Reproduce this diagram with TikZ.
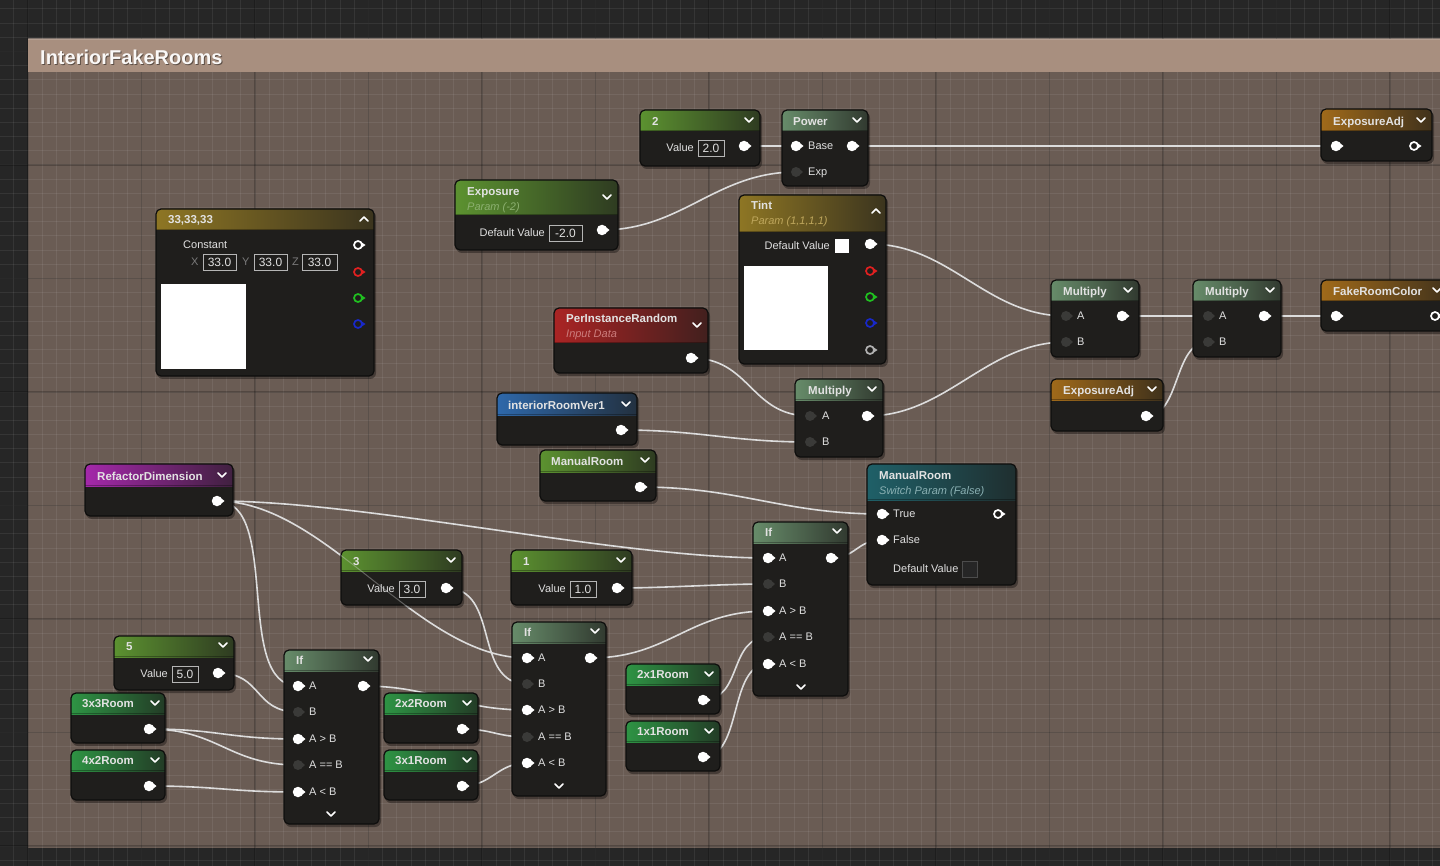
\documentclass[tikz,border=0pt]{standalone}
\usepackage{fontspec}
\setmainfont{Liberation Sans}
\pgfdeclarelayer{bg}
\pgfdeclarelayer{wires}
\pgfsetlayers{bg,wires,main}
\definecolor{outerbg}{HTML}{262626}
\definecolor{commentbg}{HTML}{6A5C54}
\definecolor{commenthead}{HTML}{A88F7F}
\definecolor{nodebg}{HTML}{1F1E1C}
\definecolor{nodeborder}{HTML}{0E0E0D}
\definecolor{pindark}{HTML}{3A3A38}
\definecolor{titlecol}{HTML}{E2E2E2}
\definecolor{labcol}{HTML}{E0E0E0}
\definecolor{boxcol}{HTML}{B5B5B5}
\definecolor{wirecol}{HTML}{DCDCDC}
\definecolor{hConst}{HTML}{5C9230}
\definecolor{hMath}{HTML}{678C6A}
\definecolor{hRoom}{HTML}{2E9444}
\definecolor{hGold}{HTML}{8E7624}
\definecolor{hOrange}{HTML}{A06A1A}
\definecolor{hRed}{HTML}{AA2424}
\definecolor{hBlue}{HTML}{2E68AA}
\definecolor{hPurple}{HTML}{A428AA}
\definecolor{hTeal}{HTML}{1F6068}
\definecolor{subGreen}{HTML}{8CB070}
\definecolor{subGold}{HTML}{BEA65C}
\definecolor{subRed}{HTML}{CC7C7C}
\definecolor{subTeal}{HTML}{8AB0B3}
\definecolor{ringRed}{HTML}{E02020}
\definecolor{ringGreen}{HTML}{20C020}
\definecolor{ringBlue}{HTML}{1828C8}
\definecolor{ringGray}{HTML}{B0B0B0}
\definecolor{xyzcol}{HTML}{7A7A7A}
\tikzset{
  uebody/.style={fill=nodebg, rounded corners=5pt, inner sep=0pt, outer sep=0pt},
  ueborder/.style={draw=nodeborder, line width=1.2pt, rounded corners=5pt},
  ueshadow/.style={fill=black, opacity=0.35, rounded corners=6pt},
  uetitle/.style={anchor=west, inner sep=0pt, text height=8.2pt, text depth=0pt, font=\fontsize{11.5}{13}\selectfont\bfseries, text=titlecol},
  uesub/.style={anchor=west, inner sep=0pt, text height=7.9pt, text depth=0pt, font=\fontsize{11}{13}\selectfont\itshape},
  uelab/.style={anchor=west, inner sep=0pt, text height=7.9pt, text depth=0pt, font=\fontsize{11}{13}\selectfont, text=labcol},
  uelabr/.style={uelab, anchor=east},
  valbox/.style={draw=boxcol, line width=0.9pt, inner sep=0pt, minimum height=16pt, text height=8.6pt, text depth=0pt, font=\fontsize{12}{14}\selectfont, text=labcol},
  pinw/.style={circle, fill=white, inner sep=0pt, minimum size=10.5pt},
  pind/.style={circle, fill=pindark, inner sep=0pt, minimum size=10pt},
  pinr/.style={circle, fill=nodebg, line width=1.7pt, inner sep=0pt, minimum size=8pt},
  caret/.style={draw=white, line width=1.5pt, line cap=round, line join=round},
  wire/.style={draw=wirecol, line width=1.6pt},
  wirefaint/.style={draw=wirecol, line width=1pt, opacity=0.35},
  gridminor/.style={draw=white, opacity=0.07, line width=1pt},
  gridmajor/.style={draw=black, opacity=0.22, line width=1.2pt},
  ctitle/.style={anchor=west, inner sep=0pt, text height=14.3pt, text depth=0pt, font=\fontsize{20}{22}\selectfont\bfseries}
}
\newcommand\uebox[7]{%
  \fill[ueshadow] (#2+1,#3+2) rectangle (#4+2,#5+3);
  \pgfmathsetmacro\uew{#4-#2}\pgfmathsetmacro\ueh{#5-#3}%
  \node[uebody, minimum width=\uew pt, minimum height=\ueh pt] (#1) at ({(#2+#4)/2},{(#3+#5)/2}) {};
  \begin{scope}
    \clip[rounded corners=5pt] (#2,#3) rectangle (#4,#5);
    \shade[left color=#7, middle color=#7!75!nodebg, right color=#7!25!nodebg] (#2,#3) rectangle (#4,#6);
    \fill[black, opacity=0.3] (#2,#6-1) rectangle (#4,#6);
  \end{scope}
  \draw[ueborder] (#2,#3) rectangle (#4,#5);
}
\newcommand\pinW[3]{\fill[white] (#2+3.5,#3-3.2) -- (#2+7.5,#3) -- (#2+3.5,#3+3.2) -- cycle; \node[pinw] (#1) at (#2,#3) {};}
\newcommand\pinD[3]{\fill[pindark] (#2+3.5,#3-3) -- (#2+7,#3) -- (#2+3.5,#3+3) -- cycle; \node[pind] (#1) at (#2,#3) {};}
\newcommand\pinR[4]{\fill[#4] (#2+3,#3-3) -- (#2+7.5,#3) -- (#2+3,#3+3) -- cycle; \node[pinr, draw=#4] (#1) at (#2,#3) {};}
\newcommand\caretdown[2]{\draw[caret] (#1-4,#2-2) -- (#1,#2+2) -- (#1+4,#2-2);}
\newcommand\caretup[2]{\draw[caret] (#1-4,#2+2) -- (#1,#2-2) -- (#1+4,#2+2);}
\newcommand\valbox[5]{\pgfmathsetmacro\vbw{#3-#2}\node[valbox, minimum width=\vbw pt] (#1) at ({(#2+#3)/2},#4) {#5};}
\newcommand\uewire[3]{\draw[wire] (#1.center) .. controls +(#3,0) and +(-#3,0) .. (#2.center);}
\begin{document}
\begin{tikzpicture}[x=1pt,y=-1pt]
\useasboundingbox (0,0) rectangle (1440,866);
\begin{pgfonlayer}{bg}
  \clip (0,0) rectangle (1440,866);
  \fill[outerbg] (0,0) rectangle (1440,866);
  \fill[commentbg] (28,38) rectangle (1450,848);
  \foreach \k in {-2,...,100} \draw[gridminor] ({28+\k*14.1875},0) -- ++(0,866);
  \foreach \k in {-4,...,58} \draw[gridminor] (0,{51.5+\k*14.1875}) -- ++(1440,0);
  \foreach \k in {0,...,12} \draw[gridmajor] ({28+\k*113.5},0) -- ++(0,866);
  \foreach \k in {-1,...,7} \draw[gridmajor] (0,{51.5+\k*113.5}) -- ++(1440,0);
  \fill[commenthead] (28,39) rectangle (1450,72);
  \fill[white, opacity=0.15] (28,38) rectangle (1450,40);
  \node[ctitle, text=black, opacity=0.45] at (41,58.5) {InteriorFakeRooms};
  \node[ctitle, text=white!94!commenthead] (commentTitle) at (40,57) {InteriorFakeRooms};
\end{pgfonlayer}

% ---------- 33,33,33 constant
\uebox{nConst}{156}{209}{374}{376}{230}{hGold}
\node[uetitle] at (168,219) {33,33,33};
\caretup{364}{219}
\node[uelab] at (183,245) {Constant};
\node[uelab, text=xyzcol] at (191,262) {X};
\valbox{cx}{203}{236}{262}{33.0}
\node[uelab, text=xyzcol] at (242,262) {Y};
\valbox{cy}{254}{287}{262}{33.0}
\node[uelab, text=xyzcol] at (292,262) {Z};
\valbox{cz}{302}{337}{262}{33.0}
\fill[white] (161,284) rectangle (246,369);
\pinR{cstW}{358}{245}{white}
\pinR{cstR}{358}{272}{ringRed}
\pinR{cstG}{358}{298}{ringGreen}
\pinR{cstB}{358}{324}{ringBlue}

% ---------- Exposure
\uebox{nExposure}{455}{180}{618}{250}{215}{hConst}
\node[uetitle] at (467,191) {Exposure};
\node[uesub, text=subGreen] at (467,207) {Param (-2)};
\caretdown{607}{197}
\node[uelabr] at (545,233) {Default Value};
\valbox{expv}{549}{582}{233}{-2.0}
\pinW{expOut}{602}{230}

% ---------- 2
\uebox{nTwo}{640}{110}{760}{166}{131}{hConst}
\node[uetitle] at (652,121) {2};
\caretdown{749}{120}
\node[uelabr] at (694,148) {Value};
\valbox{twov}{698}{724}{148}{2.0}
\pinW{twoOut}{744}{146}

% ---------- Power
\uebox{nPower}{782}{110}{868}{186}{131}{hMath}
\node[uetitle] at (793,121) {Power};
\caretdown{857}{120}
\pinW{powBase}{796}{146}
\node[uelab] at (808,146) {Base};
\pinW{powOut}{852}{146}
\pinD{powExp}{796}{172}
\node[uelab] at (808,172) {Exp};

% ---------- Tint
\uebox{nTint}{739}{195}{886}{364}{232}{hGold}
\node[uetitle] at (751,205) {Tint};
\node[uesub, text=subGold] at (751,221) {Param (1,1,1,1)};
\caretup{876}{211}
\node[uelabr] at (830,246) {Default Value};
\fill[white] (835,239) rectangle (849,253);
\pinW{tintOut}{870}{244}
\fill[white] (744,266) rectangle (828,350);
\pinR{tintR}{870}{271}{ringRed}
\pinR{tintG}{870}{297}{ringGreen}
\pinR{tintB}{870}{323}{ringBlue}
\pinR{tintA}{870}{350}{ringGray}

% ---------- PerInstanceRandom
\uebox{nPIR}{554}{308}{708}{373}{343}{hRed}
\node[uetitle] at (566,318) {PerInstanceRandom};
\node[uesub, text=subRed] at (566,334) {Input Data};
\caretdown{697}{325}
\pinW{pirOut}{691}{358}

% ---------- interiorRoomVer1
\uebox{nIRV}{497}{393}{637}{445}{415}{hBlue}
\node[uetitle] at (508,405) {interiorRoomVer1};
\caretdown{626}{404}
\pinW{irvOut}{621}{430}

% ---------- ManualRoom (param)
\uebox{nMR}{540}{450}{656}{501}{472}{hConst}
\node[uetitle] at (551,461) {ManualRoom};
\caretdown{645}{460}
\pinW{mrOut}{640}{487}

% ---------- Multiply (middle)
\uebox{nMul}{795}{379}{883}{457}{400}{hMath}
\node[uetitle] at (808,390) {Multiply};
\caretdown{872}{389}
\pinD{mulA}{810}{416}
\node[uelab] at (822,416) {A};
\pinD{mulB}{810}{442}
\node[uelab] at (822,442) {B};
\pinW{mulOut}{867}{416}

% ---------- Multiply 1
\uebox{nM1}{1051}{280}{1139}{357}{301}{hMath}
\node[uetitle] at (1063,291) {Multiply};
\caretdown{1128}{290}
\pinD{m1A}{1066}{316}
\node[uelab] at (1077,316) {A};
\pinD{m1B}{1066}{342}
\node[uelab] at (1077,342) {B};
\pinW{m1Out}{1122}{316}

% ---------- Multiply 2
\uebox{nM2}{1193}{280}{1281}{357}{301}{hMath}
\node[uetitle] at (1205,291) {Multiply};
\caretdown{1270}{290}
\pinD{m2A}{1208}{316}
\node[uelab] at (1219,316) {A};
\pinD{m2B}{1208}{342}
\node[uelab] at (1219,342) {B};
\pinW{m2Out}{1264}{316}

% ---------- ExposureAdj (lower)
\uebox{nEALow}{1051}{379}{1163}{431}{400}{hOrange}
\node[uetitle] at (1063,390) {ExposureAdj};
\caretdown{1152}{389}
\pinW{eaLowOut}{1146}{416}

% ---------- ExposureAdj (top)
\uebox{nEATop}{1321}{109}{1432}{161}{131}{hOrange}
\node[uetitle] at (1333,121) {ExposureAdj};
\caretdown{1421}{120}
\pinW{eaTopIn}{1336}{146}
\pinR{eaTopOut}{1414}{146}{white}

% ---------- FakeRoomColor
\uebox{nFRC}{1321}{280}{1452}{331}{301}{hOrange}
\node[uetitle] at (1333,291) {FakeRoomColor};
\caretdown{1437}{290}
\pinW{frcIn}{1336}{316}
\pinR{frcOut}{1435}{316}{white}

% ---------- RefactorDimension
\uebox{nRef}{85}{464}{233}{516}{486}{hPurple}
\node[uetitle] at (97,476) {RefactorDimension};
\caretdown{222}{475}
\pinW{refOut}{217}{501}

% ---------- ManualRoom switch
\uebox{nSwitch}{867}{464}{1016}{585}{500}{hTeal}
\node[uetitle] at (879,475) {ManualRoom};
\node[uesub, text=subTeal] at (879,491) {Switch Param (False)};
\pinW{swTrue}{882}{514}
\node[uelab] at (893,514) {True};
\pinR{swOut}{998}{514}{white}
\pinW{swFalse}{882}{540}
\node[uelab] at (893,540) {False};
\node[uelab] at (893,569) {Default Value};
\draw[fill=black!85, draw=black!70!white, line width=0.6pt] (962,561) rectangle (977,577);

% ---------- If (right)
\uebox{nIf3}{753}{522}{848}{696}{543}{hMath}
\node[uetitle] at (765,532) {If};
\caretdown{837}{531}
\pinW{i3A}{768}{558}
\node[uelab] at (779,558) {A};
\pinW{i3Out}{831}{558}
\pinD{i3B}{768}{584}
\node[uelab] at (779,584) {B};
\pinW{i3Gt}{768}{611}
\node[uelab] at (779,611) {A > B};
\pinD{i3Eq}{768}{637}
\node[uelab] at (779,637) {A == B};
\pinW{i3Lt}{768}{664}
\node[uelab] at (779,664) {A < B};
\caretdown{801}{687}

% ---------- 1
\uebox{nOne}{511}{550}{632}{605}{571}{hConst}
\node[uetitle] at (523,561) {1};
\caretdown{621}{560}
\node[uelabr] at (566,589) {Value};
\valbox{onev}{570}{596}{589}{1.0}
\pinW{oneOut}{617}{588}

% ---------- 3
\uebox{nThree}{341}{550}{462}{605}{571}{hConst}
\node[uetitle] at (353,561) {3};
\caretdown{451}{560}
\node[uelabr] at (395,589) {Value};
\valbox{threev}{399}{425}{589}{3.0}
\pinW{threeOut}{446}{588}

% ---------- If (middle)
\uebox{nIf2}{512}{622}{606}{796}{643}{hMath}
\node[uetitle] at (524,632) {If};
\caretdown{595}{631}
\pinW{i2A}{527}{658}
\node[uelab] at (538,658) {A};
\pinW{i2Out}{590}{658}
\pinD{i2B}{527}{684}
\node[uelab] at (538,684) {B};
\pinW{i2Gt}{527}{710}
\node[uelab] at (538,710) {A > B};
\pinD{i2Eq}{527}{737}
\node[uelab] at (538,737) {A == B};
\pinW{i2Lt}{527}{763}
\node[uelab] at (538,763) {A < B};
\caretdown{559}{786}

% ---------- 5
\uebox{nFive}{114}{636}{234}{690}{657}{hConst}
\node[uetitle] at (126,646) {5};
\caretdown{223}{645}
\node[uelabr] at (168,674) {Value};
\valbox{fivev}{172}{198}{674}{5.0}
\pinW{fiveOut}{218}{673}

% ---------- If (left)
\uebox{nIf1}{284}{650}{379}{824}{671}{hMath}
\node[uetitle] at (296,660) {If};
\caretdown{368}{659}
\pinW{i1A}{298}{686}
\node[uelab] at (309,686) {A};
\pinW{i1Out}{363}{686}
\pinD{i1B}{298}{712}
\node[uelab] at (309,712) {B};
\pinW{i1Gt}{298}{739}
\node[uelab] at (309,739) {A > B};
\pinD{i1Eq}{298}{765}
\node[uelab] at (309,765) {A == B};
\pinW{i1Lt}{298}{792}
\node[uelab] at (309,792) {A < B};
\caretdown{331}{814}

% ---------- Room switches
\uebox{nR33}{71}{693}{165}{743}{714}{hRoom}
\node[uetitle] at (82,703) {3x3Room};
\caretdown{155}{703}
\pinW{r33Out}{149}{729}

\uebox{nR42}{71}{750}{165}{800}{771}{hRoom}
\node[uetitle] at (82,760) {4x2Room};
\caretdown{155}{760}
\pinW{r42Out}{149}{786}

\uebox{nR22}{384}{693}{478}{743}{714}{hRoom}
\node[uetitle] at (395,703) {2x2Room};
\caretdown{467}{703}
\pinW{r22Out}{462}{729}

\uebox{nR31}{384}{750}{478}{800}{771}{hRoom}
\node[uetitle] at (395,760) {3x1Room};
\caretdown{467}{760}
\pinW{r31Out}{462}{786}

\uebox{nR21}{626}{664}{720}{714}{685}{hRoom}
\node[uetitle] at (637,674) {2x1Room};
\caretdown{709}{674}
\pinW{r21Out}{703}{700}

\uebox{nR11}{626}{721}{720}{771}{742}{hRoom}
\node[uetitle] at (637,731) {1x1Room};
\caretdown{709}{731}
\pinW{r11Out}{703}{757}

% faint trace of the wire that runs across node "3"
\begin{scope}
  \clip (341,550) rectangle (462,605);
  \draw[wirefaint] (refOut.center) .. controls +(110,0) and +(-110,0) .. (i2A.center);
\end{scope}

% ---------- wires (behind nodes)
\begin{pgfonlayer}{wires}
\uewire{expOut}{powExp}{80}
\uewire{twoOut}{powBase}{20}
\uewire{powOut}{eaTopIn}{100}
\uewire{tintOut}{m1A}{80}
\uewire{mulOut}{m1B}{80}
\uewire{m1Out}{m2A}{30}
\uewire{eaLowOut}{m2B}{35}
\uewire{m2Out}{frcIn}{30}
\uewire{pirOut}{mulA}{60}
\uewire{irvOut}{mulB}{80}
\uewire{mrOut}{swTrue}{100}
\uewire{refOut}{i3A}{150}
\uewire{refOut}{i2A}{110}
\uewire{refOut}{i1A}{65}
\uewire{threeOut}{i2B}{55}
\uewire{oneOut}{i3B}{50}
\uewire{i2Out}{i3Gt}{80}
\uewire{r21Out}{i3Eq}{40}
\uewire{r11Out}{i3Lt}{40}
\uewire{i3Out}{swFalse}{25}
\uewire{fiveOut}{i1B}{45}
\uewire{r33Out}{i1Gt}{70}
\uewire{r33Out}{i1Eq}{70}
\uewire{r42Out}{i1Lt}{70}
\uewire{i1Out}{i2Gt}{70}
\uewire{r22Out}{i2Eq}{30}
\uewire{r31Out}{i2Lt}{30}
\end{pgfonlayer}
\end{tikzpicture}
\end{document}
